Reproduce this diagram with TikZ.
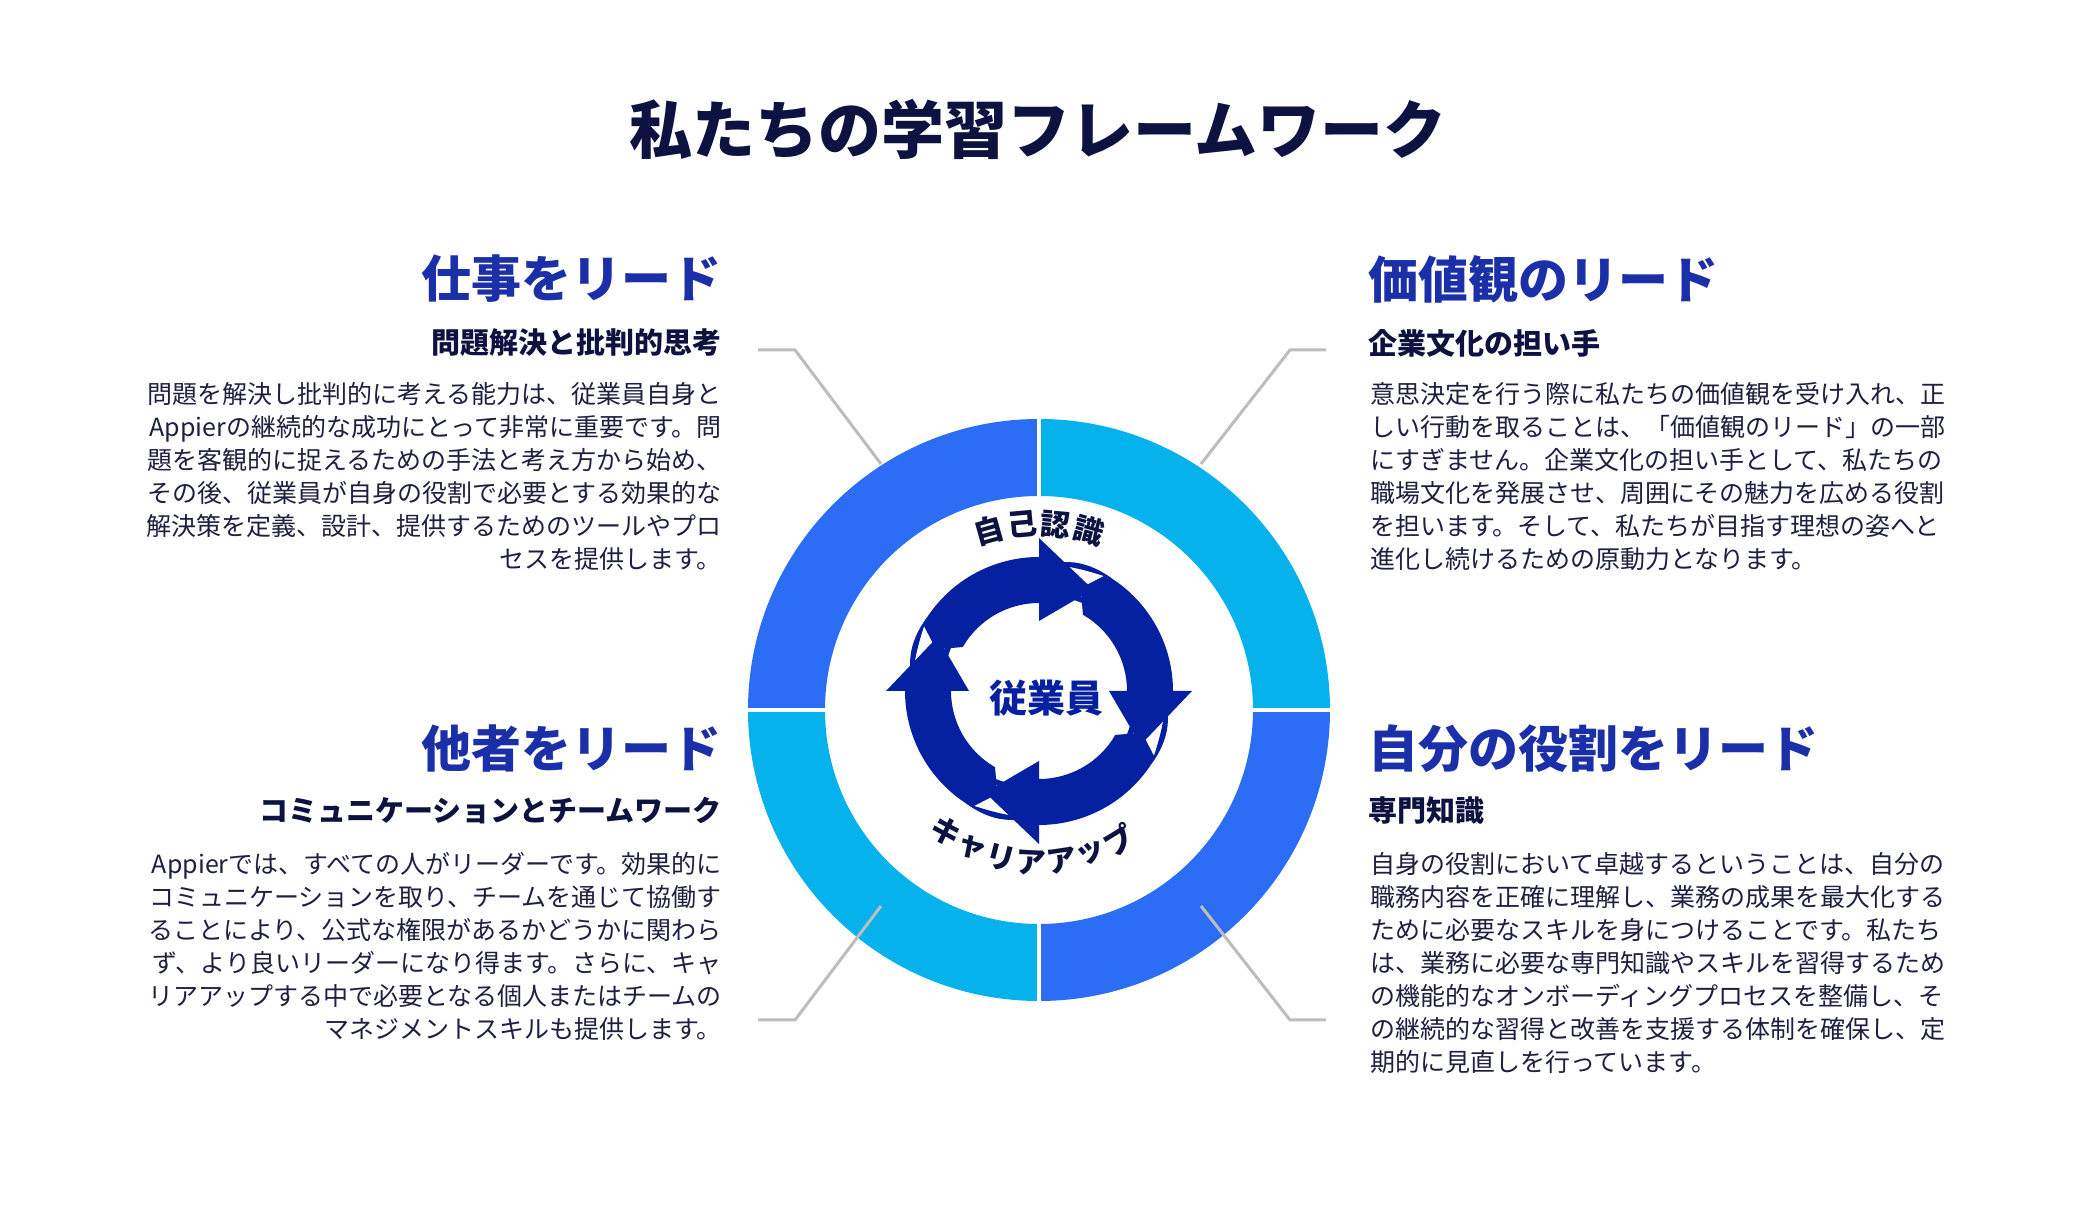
\documentclass[tikz,border=0pt]{standalone}
\usepackage{fontspec}
\setmainfont{Noto Sans CJK JP}
\definecolor{segblue}{HTML}{2B6EF5}
\definecolor{segcyan}{HTML}{05B2EC}
\definecolor{arrowblue}{HTML}{0520A0}
\definecolor{headblue}{HTML}{1A2FA8}
\definecolor{navy}{HTML}{0D1240}
\definecolor{bodytxt}{HTML}{1E2040}
\definecolor{conn}{HTML}{BDBDBD}
\tikzset{
  heading/.style={font=\fontsize{50}{56}\selectfont\bfseries, text=headblue, inner sep=0},
  subhead/.style={font=\fontsize{29}{32}\selectfont\bfseries, text=navy, inner sep=0},
  body/.style={font=\fontsize{25}{33}\selectfont, text=bodytxt, inner sep=0},
  connector/.style={draw=conn, line width=3pt},
  ringchar/.style={font=\fontsize{30}{30}\selectfont\bfseries, text=navy, inner sep=0},
}
\newcommand{\cyclearrow}[1]{%
  \begin{scope}[rotate=#1]
    \fill[arrowblue] (158:111) -- (150:134) arc[start angle=150,end angle=90,radius=134]
      -- (90:153) -- (62:115) -- (90:70) -- (90:88)
      arc[start angle=90,end angle=150,radius=88] -- cycle;
    \fill[arrowblue] (176:126) .. controls (166:138) and (156:137) .. (147:134)
      .. controls (156:130) and (166:130) .. cycle;
    \fill[arrowblue] (174:99) .. controls (164:106) and (154:105) .. (145:101)
      .. controls (154:98) and (164:98) .. cycle;
  \end{scope}}
\begin{document}
\begin{tikzpicture}[x=1pt,y=1pt]
\useasboundingbox[fill=white] (0,0) rectangle (2075,1230);
\node[font=\fontsize{63}{70}\selectfont\bfseries, text=navy, inner sep=0] (title) at (1038,1101) {私たちの学習フレームワーク};
\begin{scope}[shift={(1039,520)}]
  \fill[segcyan] (0:291) arc[start angle=0,end angle=90,radius=291] -- (90:214) arc[start angle=90,end angle=0,radius=214] -- cycle;
  \fill[segblue] (90:291) arc[start angle=90,end angle=180,radius=291] -- (180:214) arc[start angle=180,end angle=90,radius=214] -- cycle;
  \fill[segcyan] (180:291) arc[start angle=180,end angle=270,radius=291] -- (270:214) arc[start angle=270,end angle=180,radius=214] -- cycle;
  \fill[segblue] (270:291) arc[start angle=270,end angle=360,radius=291] -- (0:214) arc[start angle=0,end angle=-90,radius=214] -- cycle;
  \draw[white, line width=4pt] (-295,0) -- (-210,0) (210,0) -- (295,0) (0,-295) -- (0,-210) (0,210) -- (0,295);
  \begin{scope}[shift={(0,19)}]
    \cyclearrow{0}
    \cyclearrow{-90}
    \cyclearrow{-180}
    \cyclearrow{90}
  \end{scope}
  \node[font=\fontsize{38}{38}\selectfont\bfseries, text=arrowblue, inner sep=0] (center) at (7,12) {従業員};
  \foreach \c [count=\i] in {自,己,認,識} {
    \pgfmathsetmacro\ang{90+15.6-10.4*(\i-1)}
    \node[ringchar, rotate=\ang-90] (top\i) at (\ang:186) {\c};
  }
  \foreach \c [count=\i] in {キ,ャ,リ,ア,ア,ッ,プ} {
    \pgfmathsetmacro\ang{232.5+11.5*(\i-1)}
    \node[ringchar, rotate=\ang+90] (bot\i) at (\ang:153) {\c};
  }
  \coordinate (tlr) at (-158,246);
  \coordinate (trr) at (162,246);
  \coordinate (blr) at (-158,-196);
  \coordinate (brr) at (162,-196);
\end{scope}
\coordinate (tla) at (758,880); \coordinate (tlb) at (795,880);
\coordinate (tra) at (1326,880); \coordinate (trb) at (1290,880);
\coordinate (bla) at (758,210); \coordinate (blb) at (795,210);
\coordinate (bra) at (1326,210); \coordinate (brb) at (1290,210);
\draw[connector] (tla) -- (tlb) -- (tlr);
\draw[connector] (tra) -- (trb) -- (trr);
\draw[connector] (bla) -- (blb) -- (blr);
\draw[connector] (bra) -- (brb) -- (brr);
\node[heading, anchor=east] (h1) at (722,951) {仕事をリード};
\node[subhead, anchor=east] (s1) at (722,887) {問題解決と批判的思考};
\node[body, anchor=north east, align=right] (b1) at (722,848) {問題を解決し批判的に考える能力は、従業員自身と\\Appierの継続的な成功にとって非常に重要です。問\\題を客観的に捉えるための手法と考え方から始め、\\その後、従業員が自身の役割で必要とする効果的な\\解決策を定義、設計、提供するためのツールやプロ\\セスを提供します。};
\node[heading, anchor=west] (h2) at (1368,951) {価値観のリード};
\node[subhead, anchor=west] (s2) at (1368,887) {企業文化の担い手};
\node[body, anchor=north west, align=left] (b2) at (1370,848) {意思決定を行う際に私たちの価値観を受け入れ、正\\しい行動を取ることは、「価値観のリード」の一部\\にすぎません。企業文化の担い手として、私たちの\\職場文化を発展させ、周囲にその魅力を広める役割\\を担います。そして、私たちが目指す理想の姿へと\\進化し続けるための原動力となります。};
\node[heading, anchor=east] (h3) at (722,481) {他者をリード};
\node[subhead, anchor=east] (s3) at (722,419) {コミュニケーションとチームワーク};
\node[body, anchor=north east, align=right] (b3) at (722,378) {Appierでは、すべての人がリーダーです。効果的に\\コミュニケーションを取り、チームを通じて協働す\\ることにより、公式な権限があるかどうかに関わら\\ず、より良いリーダーになり得ます。さらに、キャ\\リアアップする中で必要となる個人またはチームの\\マネジメントスキルも提供します。};
\node[heading, anchor=west] (h4) at (1368,481) {自分の役割をリード};
\node[subhead, anchor=west] (s4) at (1368,419) {専門知識};
\node[body, anchor=north west, align=left] (b4) at (1370,378) {自身の役割において卓越するということは、自分の\\職務内容を正確に理解し、業務の成果を最大化する\\ために必要なスキルを身につけることです。私たち\\は、業務に必要な専門知識やスキルを習得するため\\の機能的なオンボーディングプロセスを整備し、そ\\の継続的な習得と改善を支援する体制を確保し、定\\期的に見直しを行っています。};
\end{tikzpicture}
\end{document}
